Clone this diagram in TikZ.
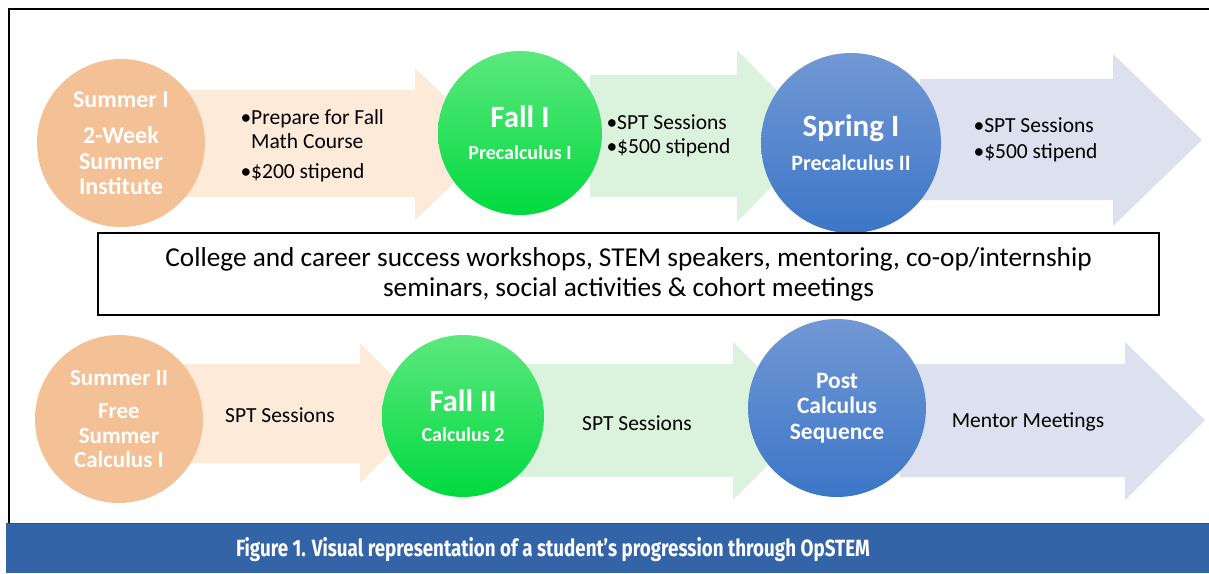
\documentclass[tikz,border=0pt]{standalone}
\usepackage{fontspec}
\setmainfont{Carlito}
\newfontfamily\capfont[FakeStretch=0.8]{Fira Sans}
\usetikzlibrary{positioning}

\definecolor{peach}{RGB}{244,192,150}
\definecolor{peachlight}{RGB}{253,234,217}
\definecolor{greentop}{RGB}{92,232,126}
\definecolor{greenbot}{RGB}{0,218,62}
\definecolor{greenlight}{RGB}{219,243,221}
\definecolor{bluetop}{RGB}{114,152,212}
\definecolor{bluebot}{RGB}{60,118,200}
\definecolor{bluelight}{RGB}{220,224,239}
\definecolor{barblue}{RGB}{52,100,168}

\begin{document}
\begin{tikzpicture}[x=1pt,y=-1pt,
    stage/.style={circle, inner sep=0pt, text=white, align=center},
    summer/.style={stage, fill=peach},
    fall/.style={stage, top color=greentop, bottom color=greenbot},
    spring/.style={stage, top color=bluetop, bottom color=bluebot},
    note/.style={align=left, font=\fontsize{21.5}{24}\selectfont}]
        \useasboundingbox (0,0) rectangle (1209,573);
        % outer frame and caption bar
        \draw[line width=2pt] (1209,9) -- (9,9) -- (9,523);
        \fill[barblue] (6,523) rectangle (1209,573);
        \draw[line width=1pt, black!70] (6,523) -- (1209,523);
        \node[text=white, font=\capfont\bfseries\fontsize{23.5}{26}\selectfont] (caption) at (553,550) {Figure 1. Visual representation of a student’s progression through OpSTEM};
        % top row arrows
        \fill[peachlight] (180,90) -- (415,90) -- (415,68) -- (495,144) -- (415,220) -- (415,197) -- (180,197) -- cycle;
        \fill[greenlight] (590,75) -- (737,75) -- (737,50) -- (822,136) -- (737,222) -- (737,197) -- (590,197) -- cycle;
        \fill[bluelight] (920,79) -- (1113,79) -- (1113,54) -- (1202,140) -- (1113,226) -- (1113,200) -- (920,200) -- cycle;
        % bottom row arrows
        \fill[peachlight] (180,364) -- (360,364) -- (360,343) -- (430,413) -- (360,483) -- (360,463) -- (180,463) -- cycle;
        \fill[greenlight] (520,364) -- (733,364) -- (733,342) -- (812,421) -- (733,500) -- (733,477) -- (520,477) -- cycle;
        \fill[bluelight] (900,364) -- (1125,364) -- (1125,342) -- (1205,420) -- (1125,500) -- (1125,477) -- (900,477) -- cycle;
        % top row stages
        \node[summer, minimum size=168pt, font=\bfseries\fontsize{24}{25.5}\selectfont] (sumI) at (121,143) {Summer I\\[11pt]2-Week\\Summer\\Institute};
        \node[fall, minimum size=164pt, font=\bfseries\fontsize{20}{22}\selectfont] (fallI) at (520,133) {{\fontsize{31}{34}\selectfont Fall I}\\[10pt]Precalculus I};
        \node[spring, minimum size=180pt, font=\bfseries\fontsize{22}{24}\selectfont] (springI) at (851,143) {{\fontsize{31}{34}\selectfont Spring I}\\[10pt]Precalculus II};
        \node[note, anchor=west] (prep) at (237,146) {•Prepare for Fall\\\hphantom{•}Math Course\\[6pt]•\$200 stipend};
        \node[note, anchor=west] (sptI) at (603,136) {•SPT Sessions\\•\$500 stipend};
        \node[note, anchor=west] (sptII) at (970,140) {•SPT Sessions\\[2pt]•\$500 stipend};
        % shared activities
        \node[draw, line width=2pt, minimum width=1061pt, minimum height=82pt, align=center, font=\fontsize{27.3}{30}\selectfont] (extras) at (628.5,274) {College and career success workshops, STEM speakers, mentoring, co-op/internship\\seminars, social activities \& cohort meetings};
        % bottom row stages
        \node[summer, minimum size=168pt, font=\bfseries\fontsize{23}{24.5}\selectfont] (sumII) at (119,419) {Summer II\\[9pt]Free\\Summer\\Calculus I};
        \node[fall, minimum size=162pt, font=\bfseries\fontsize{20}{22}\selectfont] (fallII) at (463,416) {{\fontsize{31}{34}\selectfont Fall II}\\[8pt]Calculus 2};
        \node[spring, minimum size=178pt, font=\bfseries\fontsize{23.5}{25.5}\selectfont] (post) at (837,408) {Post\\Calculus\\Sequence};
        \node[note] (spt1) at (280,415) {SPT Sessions};
        \node[note] (spt2) at (637,423) {SPT Sessions};
        \node[note] (mentor) at (1028,422) {Mentor Meetings};
        \end{tikzpicture}
\end{document}
